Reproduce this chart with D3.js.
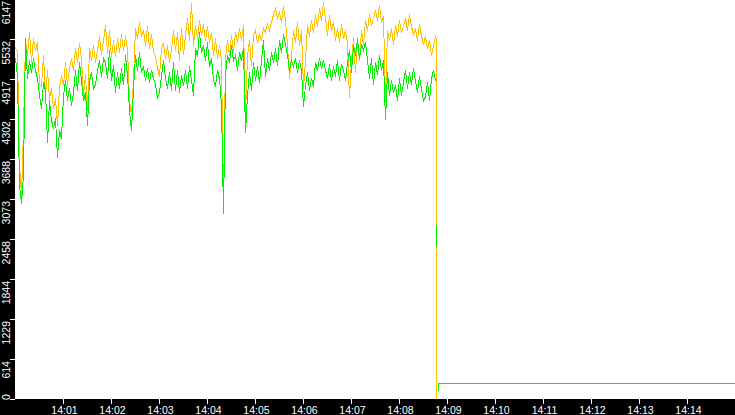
<!DOCTYPE html>
<html>
<head>
<meta charset="UTF-8">
<title>Throughput 14:00-14:15</title>
<style>
    body {
        margin: 0;
        padding: 0;
        background: #000;
    }
    svg {
        display: block;
    }
    .axis text {
        fill: #fff;
        font-family: "Liberation Sans", Arial, sans-serif;
        font-size: 10.5px;
    }
    .axis line {
        stroke: #fff;
        shape-rendering: crispEdges;
    }
    .series {
        fill: none;
        stroke-width: 1;
        shape-rendering: crispEdges;
    }
</style>
</head>
<body>
<script src="https://cdn.jsdelivr.net/npm/d3@7"></script>
<script>
    // samples every 2.5 s from 14:00:00
    const startTime = "14:00:00";
    const endTime = "14:15:00";
    const stepMs = 2500;

    const orangeValues = [
        5410, 5333, 3596, 3135, 4134, 5517, 5287, 5640, 5179, 5548,
        5363, 5486, 4841, 4810, 5287, 4672, 5056, 4626, 4779, 4472,
        4626, 4211, 4779, 4979, 4826, 5179, 4826, 5087, 5241, 5056,
        5394, 5179, 5471, 5241, 4672, 4979, 4441, 5394, 5210, 5440,
        5179, 5363, 5579, 5302, 5517, 5748, 5333, 5671, 5256, 5517,
        5271, 5548, 5333, 5609, 5363, 5579, 5394, 4595, 4364, 4902,
        5702, 5548, 5794, 5579, 5671, 5440, 5732, 5394, 5609, 5333,
        5287, 5087, 4964, 5394, 5486, 5241, 5440, 5179, 5363, 5671,
        5363, 5640, 5210, 5702, 5287, 5594, 5855, 5517, 6086, 5440,
        5748, 5548, 5825, 5594, 5763, 5517, 5732, 5486, 5640, 5287,
        5548, 5241, 5440, 5210, 3058, 5241, 5517, 5287, 5594, 5333,
        5640, 5486, 5702, 5517, 5748, 4364, 5287, 5517, 5118, 5594,
        5671, 5486, 5609, 5517, 5702, 5640, 5763, 5671, 5794, 5917,
        6009, 5855, 5948, 5794, 6040, 5825, 5440, 4933, 5287, 5671,
        5486, 5794, 5440, 5671, 4779, 5210, 5748, 5579, 5825, 5640,
        5917, 5732, 6009, 5825, 6101, 5855, 5594, 5901, 5671, 5794,
        5517, 5702, 5486, 5763, 5548, 5671, 5486, 4626, 5210, 5548,
        5025, 5517, 5210, 5671, 5440, 5825, 5671, 5917, 5748, 5855,
        5978, 5825, 6055, 5794, 5886, 4564, 5671, 5517, 5702, 5456,
        5748, 5579, 5825, 5640, 5732, 5855, 5671, 5917, 5732, 5609,
        5702, 5517, 5763, 5579, 5456, 5579, 5394, 5517, 5287, 5440,
        5579
    ];

    // the orange series falls straight to zero and stops
    const orangeTailTimes = ["14:08:46.250", "14:08:46.750"];
    const orangeTailValues = [5533, 0];

    const greenValues = [
        5241, 4964, 3289, 3012, 3442, 5548, 4933, 5210, 5025, 5241,
        5056, 4933, 4672, 4472, 4872, 4749, 3949, 4595, 4288, 4165,
        4318, 3719, 4134, 4011, 4672, 4902, 4595, 4779, 4518, 4718,
        5056, 4749, 5179, 4902, 4595, 4718, 4211, 4902, 5025, 4779,
        4841, 5056, 5210, 4964, 5241, 5179, 4933, 5363, 4902, 5133,
        4718, 5025, 4779, 5087, 4841, 5287, 4979, 4441, 4134, 4779,
        5287, 5056, 5333, 5025, 5118, 4902, 5087, 4872, 5056, 4933,
        4841, 4626, 4718, 4979, 5210, 4933, 4779, 5025, 4749, 5179,
        4749, 5056, 4718, 4979, 4826, 5056, 4779, 5118, 4902, 4672,
        5394, 5271, 5640, 5333, 5440, 5210, 5486, 5118, 5241, 4902,
        4810, 5056, 4933, 4518, 2858, 4979, 5287, 5179, 5440, 5210,
        5287, 5056, 5333, 5210, 5394, 4103, 4672, 5025, 4749, 5179,
        4902, 5118, 4872, 5210, 5517, 4964, 5241, 5056, 5333, 5179,
        5394, 5118, 5517, 5333, 5609, 5456, 5287, 5056, 5210, 5118,
        5241, 5025, 5210, 5056, 4503, 4826, 5025, 4749, 4933, 4810,
        5179, 5056, 5241, 5087, 5210, 5056, 4933, 5148, 4902, 5118,
        4964, 5210, 4902, 5148, 5056, 4902, 5179, 5363, 5025, 5440,
        5287, 5548, 5241, 5456, 5363, 5486, 5210, 4933, 5241, 4826,
        5179, 4995, 5287, 5056, 5210, 4288, 5025, 4672, 4902, 4718,
        4826, 4595, 4933, 4672, 4872, 5056, 4779, 5025, 4841, 5087,
        4902, 4718, 4964, 4779, 4595, 4656, 4872, 4595, 4933, 5056,
        4902
    ];

    // green: short broken piece at the drop, then a low flat run (null = gap)
    const greenTailTimes = ["14:08:45.625", "14:08:46.250", "14:08:46.750", "14:08:47.500",
        "14:08:48.750", "14:08:49.375", "14:15:00.000"];
    const greenTailValues = [null, 2674, 2336, null, 123, 246, 246];

    const yTickValues = [0, 614, 1229, 1844, 2458, 3073, 3688, 4302, 4917, 5532, 6147];
    const xTickLabels = ["14:01", "14:02", "14:03", "14:04", "14:05", "14:06", "14:07",
        "14:08", "14:09", "14:10", "14:11", "14:12", "14:13", "14:14"];

    const width = 735, height = 415;
    const plotLeft = 15, plotRight = 735, plotBottom = 399;

    const parseTime = d3.timeParse("%H:%M:%S");
    const parseTimeMs = d3.timeParse("%H:%M:%S.%L");
    const parseTick = d3.timeParse("%H:%M");
    const t0 = parseTime(startTime);

    const x = d3.scaleTime()
        .domain([t0, parseTime(endTime)])
        .range([plotLeft, plotRight]);

    const y = d3.scaleLinear()
        .domain([0, 6147])
        .range([plotBottom, -1]);

    function buildSeries(values, tailTimes, tailValues) {
        return values.map((v, i) => ({t: new Date(+t0 + i * stepMs), v: v}))
            .concat(tailTimes.map((s, i) => ({t: parseTimeMs(s), v: tailValues[i]})));
    }

    const orangeData = buildSeries(orangeValues, orangeTailTimes, orangeTailValues);
    const greenData = buildSeries(greenValues, greenTailTimes, greenTailValues);

    const svg = d3.select("body")
        .append("svg")
        .attr("width", width)
        .attr("height", height);

    svg.append("rect")
        .attr("width", width)
        .attr("height", height)
        .attr("fill", "#000");

    svg.append("rect")
        .attr("x", plotLeft)
        .attr("y", 0)
        .attr("width", plotRight - plotLeft)
        .attr("height", plotBottom)
        .attr("fill", "#fff");

    svg.append("clipPath")
        .attr("id", "plot-clip")
        .append("rect")
        .attr("x", plotLeft)
        .attr("y", 0)
        .attr("width", plotRight - plotLeft)
        .attr("height", plotBottom);

    const line = d3.line()
        .defined(d => d.v != null)
        .x(d => x(d.t))
        .y(d => y(d.v));

    const lines = svg.append("g")
        .attr("clip-path", "url(#plot-clip)")
        .append("g")
        .attr("transform", "translate(0.5,0.5)");

    lines.append("path")
        .attr("class", "series")
        .attr("stroke", "#ffc000")
        .attr("d", line(orangeData));

    lines.append("path")
        .attr("class", "series")
        .attr("stroke", "#00ee00")
        .attr("d", line(greenData));

    // y axis, labels turned on their side
    const axisLeft = svg.append("g")
        .attr("class", "axis")
        .attr("transform", "translate(" + plotLeft + ",0)")
        .call(d3.axisLeft(y).tickValues(yTickValues).tickSize(5).tickFormat(d3.format("d")));

    axisLeft.select(".domain").remove();

    axisLeft.selectAll(".tick text")
        .attr("transform", "rotate(-90)")
        .attr("dy", null)
        .attr("y", -5.5)
        .attr("x", d => d === 0 ? -0.5 : -1.5)
        .style("text-anchor", d => d === 0 ? "start" : "end");

    // x axis
    const axisBottom = svg.append("g")
        .attr("class", "axis")
        .attr("transform", "translate(0," + plotBottom + ")")
        .call(d3.axisBottom(x)
            .tickValues(xTickLabels.map(parseTick))
            .tickSize(5)
            .tickFormat(d3.timeFormat("%H:%M")));

    axisBottom.select(".domain").remove();

    axisBottom.selectAll(".tick text")
        .attr("dy", null)
        .attr("y", 14.5)
        .attr("x", 1);
</script>
</body>
</html>
